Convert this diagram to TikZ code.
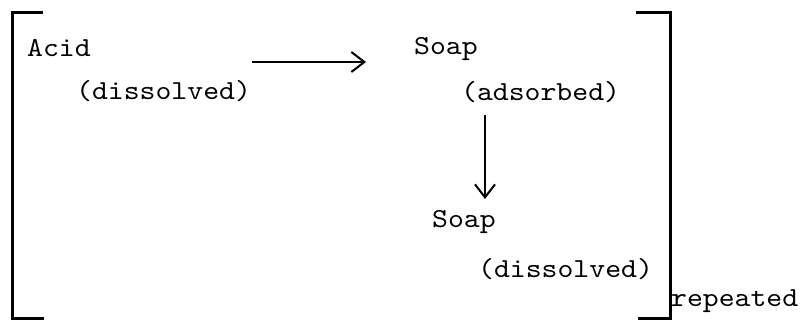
\documentclass[tikz,border=0pt]{standalone}
\usepackage{fontspec}
\setmonofont{lmmono10-regular.otf}[FakeStretch=1.1]
\usetikzlibrary{arrows.meta}
\begin{document}
\begin{tikzpicture}[x=1pt,y=-1pt,
  lbl/.style={anchor=base west,inner sep=0pt,font=\fontsize{27.5}{29}\selectfont\ttfamily},
  brk/.style={line width=3pt},
  conn/.style={line width=2pt,-{Straight Barb[length=13pt,width=20pt,line width=2pt]}}]
\useasboundingbox (0,0) rectangle (803,320);
% brackets
\draw[brk] (43,13) -- (12,13) -- (12,318) -- (44,318);
\draw[brk] (636,13) -- (670,13) -- (670,318) -- (638,318);
% texts
\node[lbl] (acid) at (27,57) {Acid};
\node[lbl] (acidd) at (76,100) {(dissolved)};
\node[lbl] (soapa) at (414,55) {Soap};
\node[lbl] (soapad) at (461,101) {(adsorbed)};
\node[lbl] (soapb) at (432,228) {Soap};
\node[lbl] (soapd) at (478,278) {(dissolved)};
\node[lbl] (rep) at (671,306) {repeated};
% connectors
\coordinate (h1) at (252,62);
\coordinate (h2) at (366,62);
\coordinate (v1) at (485,115);
\coordinate (v2) at (485,199);
\draw[conn] (h1) -- (h2);
\draw[conn] (v1) -- (v2);
\end{tikzpicture}
\end{document}
